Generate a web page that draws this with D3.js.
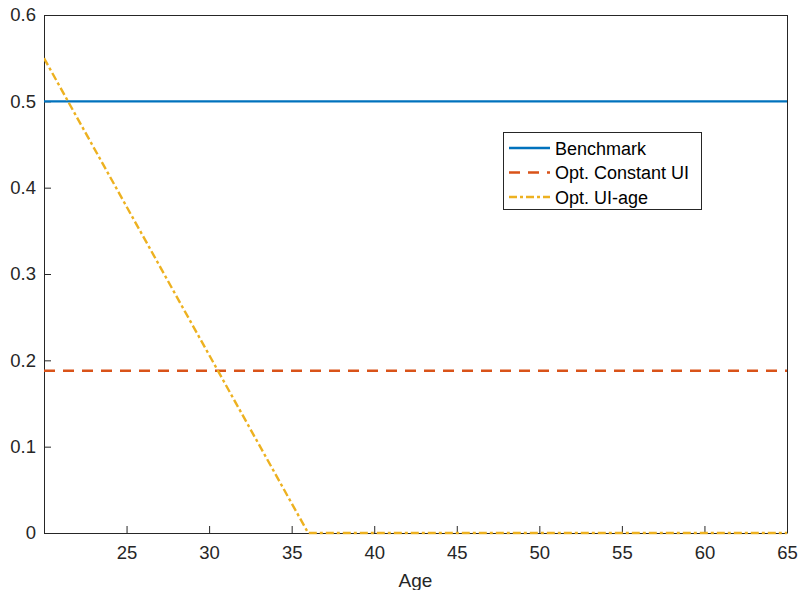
<!DOCTYPE html>
<html><head><meta charset="utf-8">
<script src="https://cdn.jsdelivr.net/npm/d3@7"></script>
<style>body{margin:0;background:#fff;}svg{display:block;font-family:Arial,"Liberation Sans",Helvetica,sans-serif;}</style>
</head><body>
<svg id="c" width="798" height="590"></svg>
<script>
const xTicks = [25, 30, 35, 40, 45, 50, 55, 60, 65];
const yTicks = [0, 0.1, 0.2, 0.3, 0.4, 0.5, 0.6];
const seriesNames = ["Benchmark", "Opt. Constant UI", "Opt. UI-age"];
const benchmarkAge = [20, 65];
const benchmarkVal = [0.5, 0.5];
const constantAge = [20, 65];
const constantVal = [0.188, 0.188];
const uiAgeAge = [20, 36, 65];
const uiAgeVal = [0.55, 0, 0];

const svg = d3.select("#c");
const L = 44, R = 787, T = 15, B = 533;
const x = d3.scaleLinear().domain([20, 65]).range([L, R]);
const y = d3.scaleLinear().domain([0, 0.6]).range([B, T]);
const axisColor = "#262626";

// axes
const gx = svg.append("g").attr("transform", `translate(0,${B})`)
  .call(d3.axisBottom(x).tickValues(xTicks).tickSizeInner(-7).tickSizeOuter(0).tickPadding(13));
const gy = svg.append("g").attr("transform", `translate(${L},0)`)
  .call(d3.axisLeft(y).tickValues(yTicks).tickFormat(d => d === 0 ? "0" : d3.format(".1f")(d)).tickSizeInner(-7).tickSizeOuter(0).tickPadding(8));
[gx, gy].forEach(g => {
  g.attr("font-size", null).attr("font-family", null);
  g.selectAll("path").attr("stroke", axisColor);
  g.selectAll("line").attr("stroke", axisColor);
  g.selectAll("text").attr("fill", axisColor).style("font-size", "18.5px");
});
// box top and right
svg.append("line").attr("x1", L).attr("x2", R).attr("y1", T + 0.5).attr("y2", T + 0.5).attr("stroke", axisColor).attr("stroke-width", 1);
svg.append("line").attr("x1", R + 0.5).attr("x2", R + 0.5).attr("y1", T).attr("y2", B).attr("stroke", axisColor).attr("stroke-width", 1);

svg.append("text").attr("x", (L + R) / 2).attr("y", 587).attr("text-anchor", "middle")
  .attr("fill", axisColor).style("font-size", "19px").text("Age");

svg.append("clipPath").attr("id", "pc").append("rect")
  .attr("x", L).attr("y", T - 2).attr("width", R - L).attr("height", B - T + 4);

const line = d3.line().x(d => x(d[0])).y(d => y(d[1]));
const series = [
  { name: seriesNames[0], age: benchmarkAge, val: benchmarkVal, color: "#0072BD", dash: null },
  { name: seriesNames[1], age: constantAge, val: constantVal, color: "#D95319", dash: "11,8" },
  { name: seriesNames[2], age: uiAgeAge, val: uiAgeVal, color: "#EDB120", dash: "8,3,3,3" }
];
const plot = svg.append("g").attr("clip-path", "url(#pc)");
series.forEach(s => {
  plot.append("path").datum(s.age.map((a, i) => [a, s.val[i]]))
    .attr("d", line).attr("fill", "none").attr("stroke", s.color)
    .attr("stroke-width", 2.4).attr("stroke-dasharray", s.dash);
});

// legend
const lg = svg.append("g");
lg.append("rect").attr("x", 503.5).attr("y", 132.5).attr("width", 198).attr("height", 77)
  .attr("fill", "#fff").attr("stroke", "#262626").attr("stroke-width", 1);
series.forEach((s, i) => {
  const yy = 148 + i * 24.5;
  lg.append("line").attr("x1", 509).attr("x2", 550).attr("y1", yy).attr("y2", yy)
    .attr("stroke", s.color).attr("stroke-width", 2.4).attr("stroke-dasharray", s.dash);
  lg.append("text").attr("x", 555).attr("y", yy + 6.5).attr("fill", "#000")
    .style("font-size", "18px").text(s.name);
});
</script>
</body></html>
